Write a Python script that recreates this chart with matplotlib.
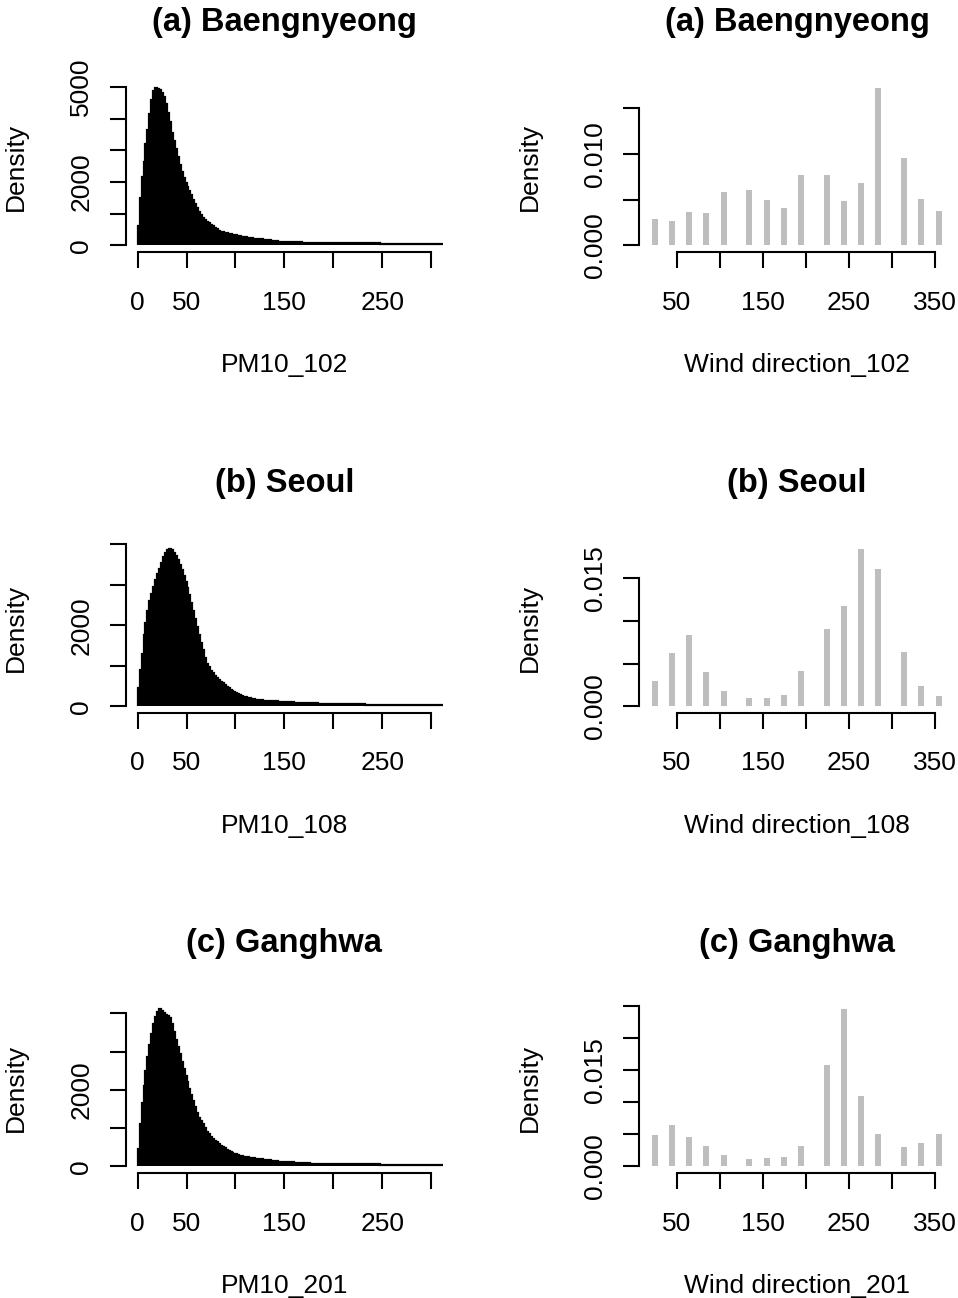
import matplotlib
matplotlib.use('Agg')
import matplotlib.pyplot as plt

plt.rcParams['font.family'] = ['Liberation Sans', 'DejaVu Sans']

W, H, DPI = 958, 1298, 100

# ---------------- data ----------------
# PM10 histogram bin edges (width 2 up to 120, then width 8 in the thin tail)
pm_edges = list(range(0, 121, 2)) + list(range(128, 313, 8))

pm10_102 = [600, 1500, 2150, 2650, 3200, 3650, 4150, 4600, 4880, 4960,
            4950, 4910, 4830, 4680, 4460, 4200, 3900, 3560, 3300, 3040,
            2780, 2530, 2330, 2140, 1970, 1850, 1730, 1600, 1450, 1310,
            1180, 1060, 960, 880, 810, 750, 700, 650, 605, 560,
            515, 465, 435, 420, 400, 385, 370, 355, 340, 325,
            315, 303, 290, 278, 266, 255, 243, 232, 222, 213,
            200, 172, 142, 120, 110, 98, 90, 84, 78, 73,
            70, 68, 66, 64, 62, 61, 60, 58, 57, 56, 55, 54, 53, 52]

pm10_108 = [450, 900, 1300, 1750, 2050, 2350, 2600, 2780, 2950, 3120,
            3260, 3390, 3540, 3680, 3800, 3850, 3880, 3860, 3800, 3720,
            3620, 3500, 3360, 3220, 3070, 2920, 2750, 2560, 2360, 2160,
            1960, 1760, 1560, 1380, 1200, 1050, 960, 880, 810, 750,
            700, 650, 610, 570, 530, 480, 440, 400, 370, 340,
            315, 290, 270, 255, 240, 225, 212, 200, 190, 180,
            165, 140, 122, 102, 93, 86, 77, 71, 66, 60,
            56, 52, 48, 44, 41, 40, 39, 38, 37, 36, 35, 34, 33, 33]

pm10_201 = [450, 1100, 1650, 2100, 2500, 2870, 3170, 3470, 3720, 3900,
            4030, 4100, 4060, 4000, 3965, 3920, 3865, 3720, 3510, 3300,
            3120, 2930, 2725, 2540, 2360, 2200, 2020, 1860, 1700, 1560,
            1400, 1260, 1180, 1100, 1000, 905, 840, 775, 710, 670,
            625, 580, 540, 510, 475, 440, 415, 385, 355, 330,
            315, 300, 285, 270, 258, 247, 238, 228, 218, 208,
            185, 168, 140, 125, 108, 92, 82, 74, 66, 61,
            59, 57, 55, 54, 53, 51, 50, 49, 48, 47, 46, 45, 44, 43]

# Wind direction densities
wind_dir = [24.5, 44.5, 64.5, 84.5, 104.5, 134.5, 154.5, 174.5,
            194.5, 224.5, 244.5, 264.5, 284.5, 314.5, 334.5, 354.5]
wd_102 = [0.0029, 0.0027, 0.0036, 0.00355, 0.0058, 0.0060, 0.0049, 0.0041,
          0.0077, 0.0077, 0.0048, 0.0068, 0.0171, 0.0095, 0.0051, 0.0038]
wd_108 = [0.0030, 0.0062, 0.0084, 0.0040, 0.0018, 0.0010, 0.00095, 0.00135,
          0.0041, 0.0090, 0.0117, 0.0184, 0.0161, 0.0064, 0.0024, 0.0012]
wd_201 = [0.0049, 0.0065, 0.0045, 0.0032, 0.00185, 0.0012, 0.00125, 0.00145,
          0.0031, 0.0157, 0.0244, 0.0109, 0.0051, 0.0030, 0.0036, 0.0051]

titles = ['(a) Baengnyeong', '(b) Seoul', '(c) Ganghwa']
pm_names = ['PM10_102', 'PM10_108', 'PM10_201']
wind_names = ['Wind direction_102', 'Wind direction_108', 'Wind direction_201']

pm_xticks = [0, 50, 100, 150, 200, 250, 300]
pm_xticklabels = ['0', '50', '', '150', '', '250', '']
pm_yticks = [[0, 1000, 2000, 3000, 4000, 5000],
             [0, 1000, 2000, 3000, 4000],
             [0, 1000, 2000, 3000, 4000]]
pm_yticklabels = [['0', '', '2000', '', '', '5000'],
                  ['0', '', '2000', '', ''],
                  ['0', '', '2000', '', '']]

wind_xticks = [50, 100, 150, 200, 250, 300, 350]
wind_xticklabels = ['50', '', '150', '', '250', '', '350']
wind_yticks = [[0, 0.005, 0.010, 0.015],
               [0, 0.005, 0.010, 0.015],
               [0, 0.005, 0.010, 0.015, 0.020, 0.025]]
wind_yticklabels = [['0.000', '', '0.010', ''],
                    ['0.000', '', '', '0.015'],
                    ['0.000', '', '', '0.015', '', '']]

pm_series = [pm10_102, pm10_108, pm10_201]
wd_series = [wd_102, wd_108, wd_201]

# ---------------- layout ----------------
fig = plt.figure(figsize=(W / DPI, H / DPI), dpi=DPI)
col_px = [(125.9, 442.8), (639.3, 955.0)]
row_top = [82.2, 543.0, 1003.2]
ph = 169.5
FS = 19
TFS = 23.5
LW = 1.5


def make_ax(col, row):
    x0, x1 = col_px[col]
    top = row_top[row]
    return fig.add_axes([x0 / W, 1 - (top + ph) / H, (x1 - x0) / W, ph / H])


def style(ax, xticks, xtl, yticks, ytl, title, xlabel, width_px):
    for s in ['top', 'right']:
        ax.spines[s].set_visible(False)
    for s in ['left', 'bottom']:
        ax.spines[s].set_linewidth(LW)
    ax.spines['left'].set_bounds(yticks[0], yticks[-1])
    ax.spines['bottom'].set_bounds(xticks[0], xticks[-1])
    ax.set_xticks(xticks)
    ax.set_xticklabels(xtl)
    ax.set_yticks(yticks)
    ax.set_yticklabels(ytl, rotation=90, va='center')
    ax.tick_params(axis='both', direction='out', length=11.5, width=LW,
                   labelsize=FS)
    ax.tick_params(axis='x', pad=16.5)
    ax.tick_params(axis='y', pad=12)
    ax.set_xlabel(xlabel, fontsize=FS)
    ax.xaxis.set_label_coords(0.5, -(352.8 - 251.7) / ph)
    ax.set_ylabel('Density', fontsize=FS)
    ax.yaxis.set_label_coords(-97.6 / width_px, 0.5)
    ax.text(0.5, 1 + 60 / ph, title, transform=ax.transAxes, ha='center',
            va='center', fontsize=TFS, fontweight='bold')


for r in range(3):
    # PM10 histogram
    ax = make_ax(0, r)
    counts = pm_series[r]
    ax.stairs(counts, pm_edges, fill=True, facecolor='black',
              edgecolor='black', linewidth=1.6)
    m = max(counts)
    ax.set_xlim(-12, 312)
    ax.set_ylim(-0.04 * m, 1.04 * m)
    style(ax, pm_xticks, pm_xticklabels, pm_yticks[r], pm_yticklabels[r],
          titles[r], pm_names[r], col_px[0][1] - col_px[0][0])

    # Wind direction density
    ax2 = make_ax(1, r)
    dens = wd_series[r]
    ax2.bar(wind_dir, dens, width=7, color='#BEBEBE', linewidth=0)
    m2 = max(dens)
    ax2.set_xlim(20 - 0.04 * 340, 360 + 0.04 * 340)
    ax2.set_ylim(-0.04 * m2, 1.04 * m2)
    style(ax2, wind_xticks, wind_xticklabels, wind_yticks[r],
          wind_yticklabels[r], titles[r], wind_names[r],
          col_px[1][1] - col_px[1][0])

fig.savefig('out.png', dpi=DPI, facecolor='white')
